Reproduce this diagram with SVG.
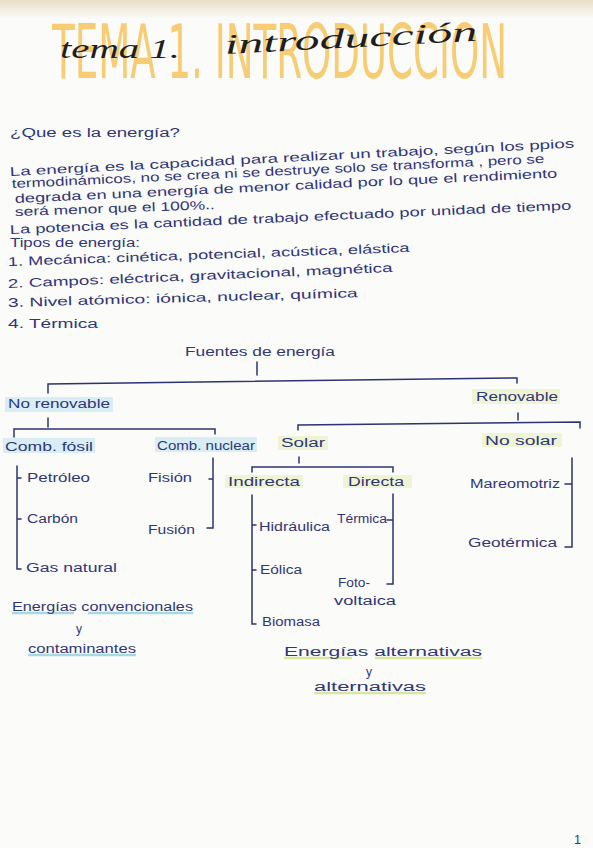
<svg xmlns="http://www.w3.org/2000/svg" width="593" height="848" viewBox="0 0 593 848">
<defs>
<linearGradient id="paper" x1="0" y1="0" x2="0" y2="1">
<stop offset="0" stop-color="#e9dfc6"/>
<stop offset="1" stop-color="#fbfaf7"/>
</linearGradient>
</defs>
<style>
.t{font-family:"Liberation Sans","DejaVu Sans",sans-serif;font-size:12.5px;fill:#30367a;}
.s{font-size:12px;}
.ln{stroke:#2c3472;stroke-width:1.5;fill:none;stroke-linecap:round;}
.hc{fill:#d8eef4;}
.hg{fill:#eef4d4;}
.uc{stroke:#a6d9e2;stroke-width:2.5;fill:none;}
.ug{stroke:#d8e7a0;stroke-width:2.5;fill:none;}
.sc{font-family:"Liberation Serif","DejaVu Serif",serif;font-style:italic;font-size:28px;fill:#1e1e1e;}
</style>
<rect width="593" height="848" fill="#fbfbf9"/>
<rect width="593" height="18" fill="url(#paper)"/>
<g id="title">
<text x="52" y="78" font-family="'DejaVu Sans Condensed','Liberation Sans',sans-serif" font-size="74" fill="#f7c35c" fill-opacity="0.85" textLength="455" lengthAdjust="spacingAndGlyphs">TEMA 1. INTRODUCCION</text>
<text class="sc" x="60" y="58" textLength="120" lengthAdjust="spacingAndGlyphs">tema 1.</text>
<text class="sc" x="225" y="54" transform="rotate(-3 225 54)" textLength="253" lengthAdjust="spacingAndGlyphs">introducción</text>
</g>
<g id="intro">
<text class="t" x="10" y="137" textLength="170" lengthAdjust="spacingAndGlyphs">¿Que es la energía?</text>
<text class="t" x="10" y="176" transform="rotate(-2.9 10 176)" textLength="565" lengthAdjust="spacingAndGlyphs">La energía es la capacidad para realizar un trabajo, según los ppios</text>
<text class="t" x="12" y="188" transform="rotate(-2.7 12 188)" textLength="533" lengthAdjust="spacingAndGlyphs">termodinámicos, no se crea ni se destruye solo se transforma , pero se</text>
<text class="t" x="15" y="203" transform="rotate(-2.7 15 203)" textLength="543" lengthAdjust="spacingAndGlyphs">degrada en una energía de menor calidad por lo que el rendimiento</text>
<text class="t" x="15" y="216" transform="rotate(-2 15 216)" textLength="200" lengthAdjust="spacingAndGlyphs">será menor que el 100%..</text>
<text class="t" x="10" y="234" transform="rotate(-2.5 10 234)" textLength="562" lengthAdjust="spacingAndGlyphs">La potencia es la cantidad de trabajo efectuado por unidad de tiempo</text>
<text class="t" x="10" y="247" textLength="130" lengthAdjust="spacingAndGlyphs">Tipos de energía:</text>
<text class="t" x="8" y="266" transform="rotate(-2 8 266)" textLength="402" lengthAdjust="spacingAndGlyphs">1. Mecánica: cinética, potencial, acústica, elástica</text>
<text class="t" x="8" y="288" transform="rotate(-2.4 8 288)" textLength="385" lengthAdjust="spacingAndGlyphs">2. Campos: eléctrica, gravitacional, magnética</text>
<text class="t" x="8" y="307" transform="rotate(-1.6 8 307)" textLength="350" lengthAdjust="spacingAndGlyphs">3. Nivel atómico: iónica, nuclear, química</text>
<text class="t" x="8" y="328" textLength="90" lengthAdjust="spacingAndGlyphs">4. Térmica</text>
</g>
<g id="connectors">
<path class="ln" d="M257 362 V375"/>
<path class="ln" d="M48 393 V384 L517 378 V383"/>
<path class="ln" d="M48 418 V427"/>
<path class="ln" d="M14 437 V429 L215 429 V434"/>
<path class="ln" d="M518 413 V420"/>
<path class="ln" d="M298 430 V425 L580 422 V428"/>
<path class="ln" d="M21 478 H17 M21 519 H17 M21 569 H17 V466"/>
<path class="ln" d="M209 479 H213 M207 528 H213 V458"/>
<path class="ln" d="M299 457 V463"/>
<path class="ln" d="M252 472 V467 L393 467 V472"/>
<path class="ln" d="M256 525 H252 M256 570 H252 M256 624 H252 V495"/>
<path class="ln" d="M387 520 H393 M387 584 H393 V494"/>
<path class="ln" d="M565 484 H572 M565 547 H572 V458"/>
</g>
<g id="fuentes"><text class="t" x="185" y="356" textLength="150" lengthAdjust="spacingAndGlyphs">Fuentes de energía</text></g>
<g id="no-renovable"><rect class="hc" x="5" y="397" width="108" height="15"/><text class="t" x="8" y="408" textLength="102" lengthAdjust="spacingAndGlyphs">No renovable</text></g>
<g id="renovable"><rect class="hg" x="472" y="389" width="88" height="15"/><text class="t" x="476" y="401" textLength="82" lengthAdjust="spacingAndGlyphs">Renovable</text></g>
<g id="comb-fosil"><rect class="hc" x="3" y="438" width="92" height="15"/><text class="t" x="5" y="451" textLength="88" lengthAdjust="spacingAndGlyphs">Comb. fósil</text></g>
<g id="comb-nuclear"><rect class="hc" x="155" y="437" width="102" height="15"/><text class="t" x="157" y="450" textLength="98" lengthAdjust="spacingAndGlyphs">Comb. nuclear</text></g>
<g id="solar"><rect class="hg" x="278" y="436" width="50" height="14"/><text class="t" x="281" y="447" textLength="44" lengthAdjust="spacingAndGlyphs">Solar</text></g>
<g id="no-solar"><rect class="hg" x="482" y="433" width="80" height="14"/><text class="t" x="485" y="445" textLength="72" lengthAdjust="spacingAndGlyphs">No solar</text></g>
<g id="petroleo"><text class="t s" x="27" y="482" textLength="63" lengthAdjust="spacingAndGlyphs">Petróleo</text></g>
<g id="carbon"><text class="t s" x="27" y="523" textLength="51" lengthAdjust="spacingAndGlyphs">Carbón</text></g>
<g id="gas-natural"><text class="t s" x="26" y="572" textLength="91" lengthAdjust="spacingAndGlyphs">Gas natural</text></g>
<g id="fision"><text class="t s" x="148" y="482" textLength="44" lengthAdjust="spacingAndGlyphs">Fisión</text></g>
<g id="fusion"><text class="t s" x="148" y="534" textLength="47" lengthAdjust="spacingAndGlyphs">Fusión</text></g>
<g id="indirecta"><rect class="hg" x="225" y="475" width="78" height="13"/><text class="t" x="228" y="486" textLength="72" lengthAdjust="spacingAndGlyphs">Indirecta</text></g>
<g id="directa"><rect class="hg" x="343" y="475" width="69" height="13"/><text class="t" x="348" y="486" textLength="56" lengthAdjust="spacingAndGlyphs">Directa</text></g>
<g id="hidraulica"><text class="t s" x="259" y="531" textLength="71" lengthAdjust="spacingAndGlyphs">Hidráulica</text></g>
<g id="eolica"><text class="t s" x="260" y="574" textLength="42" lengthAdjust="spacingAndGlyphs">Eólica</text></g>
<g id="biomasa"><text class="t s" x="262" y="626" textLength="58" lengthAdjust="spacingAndGlyphs">Biomasa</text></g>
<g id="termica"><text class="t s" x="337" y="523" textLength="50" lengthAdjust="spacingAndGlyphs">Térmica</text></g>
<g id="fotovoltaica"><text class="t s" x="338" y="587" textLength="32" lengthAdjust="spacingAndGlyphs">Foto-</text><text class="t s" x="334" y="605" textLength="62" lengthAdjust="spacingAndGlyphs">voltaica</text></g>
<g id="mareomotriz"><text class="t s" x="470" y="488" textLength="90" lengthAdjust="spacingAndGlyphs">Mareomotriz</text></g>
<g id="geotermica"><text class="t s" x="468" y="547" textLength="89" lengthAdjust="spacingAndGlyphs">Geotérmica</text></g>
<g id="convencionales">
<path class="uc" d="M12 613 H74 M88 613 H193 M28 655 H136"/>
<text class="t" x="12" y="611" textLength="181" lengthAdjust="spacingAndGlyphs">Energías convencionales</text>
<text class="t s" x="76" y="633">y</text>
<text class="t" x="28" y="653" textLength="108" lengthAdjust="spacingAndGlyphs">contaminantes</text>
</g>
<g id="alternativas">
<path class="ug" d="M284 658 H352 M375 658 H482 M314 693 H426"/>
<text class="t" x="284" y="656" textLength="198" lengthAdjust="spacingAndGlyphs">Energías    alternativas</text>
<text class="t s" x="366" y="676">y</text>
<text class="t" x="314" y="691" textLength="112" lengthAdjust="spacingAndGlyphs">alternativas</text>
</g>
<text class="t" x="574" y="844">1</text>
</svg>
